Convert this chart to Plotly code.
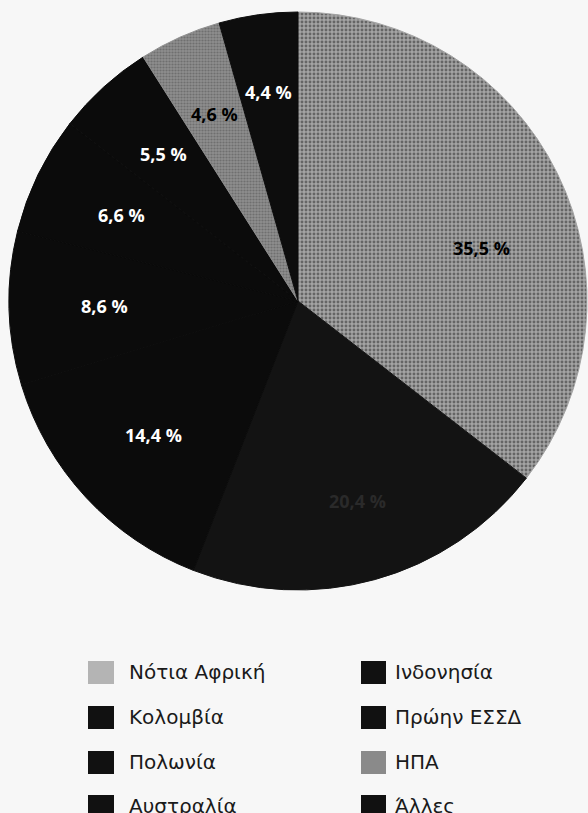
import math
import plotly.graph_objects as go

# Coal export shares (%)
countries = ["Νότια Αφρική", "Κολομβία", "Πολωνία", "Αυστραλία",
             "Ινδονησία", "Πρώην ΕΣΣΔ", "ΗΠΑ", "Άλλες"]
shares = [35.5, 20.4, 14.4, 8.6, 6.6, 5.5, 4.6, 4.4]

# Slice styling
slice_colors = ["#a4a4a4", "#131313", "#0b0b0b", "#0b0b0b",
                "#0b0b0b", "#0b0b0b", "#8e8e8e", "#0d0d0d"]
pattern_shapes = [".", "", "", "", "", "", ".", ""]
pattern_fg = ["#262626", "#131313", "#0b0b0b", "#0b0b0b",
              "#0b0b0b", "#0b0b0b", "#505050", "#0d0d0d"]
pattern_size = [4, 4, 4, 4, 4, 4, 3, 4]
label_colors = ["#000000", "#2a2a2a", "#ffffff", "#ffffff",
                "#ffffff", "#ffffff", "#000000", "#ffffff"]
legend_colors = ["#b4b4b4", "#111111", "#111111", "#111111",
                 "#111111", "#111111", "#8a8a8a", "#111111"]
# label placement: fraction of radius, angular shift (deg) from slice middle
label_radius = [0.66, 0.72, 0.68, 0.67, 0.68, 0.69, 0.71, 0.73]
label_turn = [10, -1, 0, 0, 0, 0, 0, 0]

W, H = 588, 813
pie_left, pie_right = 9, 587
pie_top, pie_bottom = 12, 590

fig = go.Figure()
fig.add_trace(go.Pie(
    labels=countries,
    values=shares,
    sort=False,
    direction="clockwise",
    rotation=0,
    textinfo="none",
    hoverinfo="label+value",
    showlegend=False,
    marker=dict(
        colors=slice_colors,
        line=dict(width=1, color=slice_colors),
        pattern=dict(shape=pattern_shapes, fgcolor=pattern_fg,
                     fillmode="overlay", size=pattern_size, solidity=0.42),
    ),
    domain=dict(x=[pie_left / W, pie_right / W],
                y=[1 - pie_bottom / H, 1 - pie_top / H]),
))

# Percentage labels placed along each slice's middle direction
cx = (pie_left + pie_right) / 2
cy = (pie_top + pie_bottom) / 2
R = min(pie_right - pie_left, pie_bottom - pie_top) / 2
total = sum(shares)
cum = 0.0
annotations = []
for i, v in enumerate(shares):
    mid = (cum + v / 2) / total * 360 + label_turn[i]
    cum += v
    r = label_radius[i] * R
    px = cx + r * math.sin(math.radians(mid))
    py = cy - r * math.cos(math.radians(mid))
    annotations.append(dict(
        x=px / W, y=1 - py / H, xref="paper", yref="paper",
        xanchor="center", yanchor="middle",
        text=f"{v:.1f}".replace(".", ",") + " %",
        showarrow=False,
        font=dict(family="Open Sans", size=18, color=label_colors[i],
                  weight="bold"),
    ))

# Two-column legend below the pie
shapes = []
row_y = [672, 717, 762, 806]
col_key_x = [(88, 114), (361, 386)]
col_text_x = [127, 393]
for i, name in enumerate(countries):
    col, row = divmod(i, 4)
    yc = row_y[row]
    x0, x1 = col_key_x[col]
    shapes.append(dict(
        type="rect", xref="paper", yref="paper",
        x0=x0 / W, x1=x1 / W, y0=1 - (yc + 12) / H, y1=1 - (yc - 11) / H,
        fillcolor=legend_colors[i], line=dict(width=0),
    ))
    annotations.append(dict(
        x=col_text_x[col] / W, y=1 - yc / H, xref="paper", yref="paper",
        xanchor="left", yanchor="middle", text=name, showarrow=False,
        font=dict(family="DejaVu Sans", size=20, color="#1a1a1a"),
    ))

fig.update_layout(
    width=W, height=H,
    margin=dict(l=0, r=0, t=0, b=0),
    paper_bgcolor="#f7f7f7",
    plot_bgcolor="#f7f7f7",
    annotations=annotations,
    shapes=shapes,
)

fig.write_html("out.html")
